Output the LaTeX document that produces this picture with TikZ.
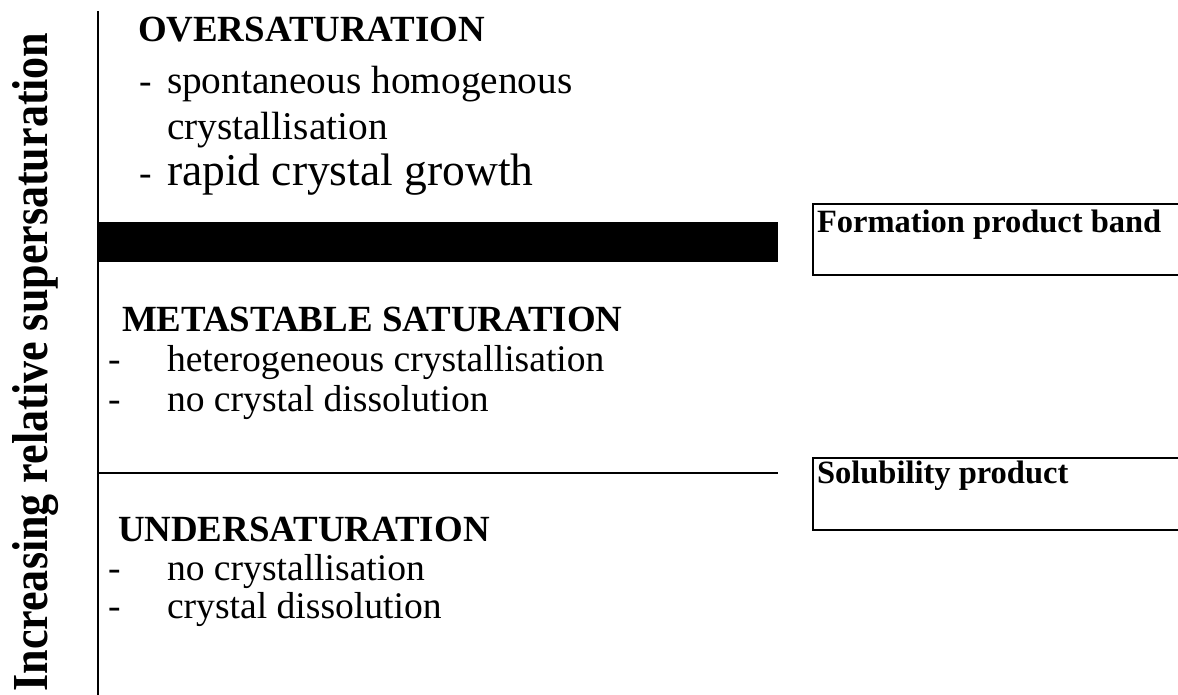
\documentclass[tikz,border=0pt]{standalone}
\usepackage{fontspec}
\setmainfont{Liberation Serif}
\usetikzlibrary{positioning}

\begin{document}
\begin{tikzpicture}[x=0.02cm,y=-0.02cm,
    every node/.style={inner sep=0pt,outer sep=0pt},
    head/.style={anchor=base west,font=\fontsize{21}{25}\selectfont\bfseries},
    item/.style={anchor=base west,font=\fontsize{21.4}{25}\selectfont},
    boxlabel/.style={anchor=base west,font=\fontsize{18.5}{22}\selectfont\bfseries}]

		\useasboundingbox (0,0) rectangle (1178,695);

		\coordinate (T) at (98,11);
		\coordinate (U) at (98,695);
		\coordinate (P) at (98,222);
		\coordinate (Q) at (778,262);
		\coordinate (K) at (778,473);
		\coordinate (L) at (98,473);

		\draw [line width=1.1pt] (T) -- (U);
		\node [rotate=90,anchor=base] (axis) at (48,362)
			{\resizebox{13.18cm}{0.7cm}{\bfseries Increasing relative supersaturation}};

		% formation band and solubility line
		\fill (P) rectangle (Q);
		\draw [line width=1.3pt] (L) -- (K);

		% boxes on the right, open to the edge
		\draw [line width=0.9pt] (1178,204) -- (813,204) -- (813,275) -- (1178,275);
		\draw [line width=0.9pt] (1178,458) -- (813,458) -- (813,530) -- (1178,530);
		\node [boxlabel] (fpb) at (817,233) {Formation product band};
		\node [boxlabel] (sp) at (817,484) {Solubility product};

		% oversaturation
		\node [head] (over) at (138,42) {OVERSATURATION};
		\node [item,font=\fontsize{22.4}{26}\selectfont] (o1) at (167,94) {spontaneous homogenous};
		\node [item,font=\fontsize{22.4}{26}\selectfont] (o2) at (167,140) {crystallisation};
		\node [item,font=\fontsize{25.9}{30}\selectfont] (o3) at (167,186) {rapid crystal growth};
		\foreach \y in {94,186}
			\node [item] at (139,\y) {-};

		% metastable
		\node [head] (meta) at (122,332) {METASTABLE SATURATION};
		\node [item] (m1) at (167,372) {heterogeneous crystallisation};
		\node [item] (m2) at (167,412) {no crystal dissolution};

		% undersaturation
		\node [head] (under) at (118,542) {UNDERSATURATION};
		\node [item] (u1) at (167,581) {no crystallisation};
		\node [item] (u2) at (167,619) {crystal dissolution};

		\foreach \y in {372,412,581,619}
			\node [item] at (108,\y) {-};

\end{tikzpicture}
\end{document}
